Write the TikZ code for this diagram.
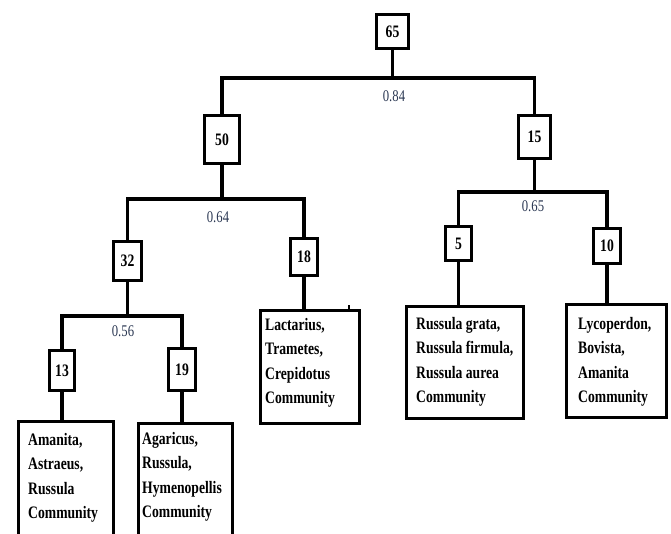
\documentclass[tikz,border=0pt]{standalone}
\usepackage{fontspec}
\setmainfont{Liberation Serif}[FakeStretch=0.78]
\usetikzlibrary{positioning}
\usetikzlibrary{calc}
\definecolor{simblue}{HTML}{2B3853}

\begin{document}
\begin{tikzpicture}[
x=1pt, y=-1pt,
lk/.style={line width=3.2pt}
]

\tikzstyle{nb} = [draw, line width=3.2pt, shape=rectangle, inner sep=0pt, font=\fontsize{17.5}{20}\selectfont\bfseries]
\tikzstyle{cb} = [draw, line width=3.2pt, shape=rectangle, anchor=north west, inner sep=0pt]
\tikzstyle{ct} = [anchor=north west, align=left, inner sep=0pt, font=\fontsize{17.5}{24.5}\selectfont\bfseries]
\tikzstyle{sv} = [inner sep=0pt, text=simblue, font=\fontsize{16.3}{18}\selectfont]

\useasboundingbox (0,0) rectangle (671,534);
\clip (0,0) rectangle (671,534);

\node[nb, minimum width=32, minimum height=34] (n65) at (392.5,31.5) {65};
\node[nb, minimum width=35, minimum height=48] (n50) at (222,139.5) {50};
\node[nb, minimum width=32, minimum height=43] (n15) at (534.5,137) {15};
\node[nb, minimum width=28, minimum height=39] (n32) at (127.5,261) {32};
\node[nb, minimum width=27, minimum height=37] (n18) at (304,257) {18};
\node[nb, minimum width=25, minimum height=40] (n13) at (62,370.5) {13};
\node[nb, minimum width=27, minimum height=42] (n19) at (182,369.5) {19};
\node[nb, minimum width=26, minimum height=34] (n5) at (458.5,243.5) {5};
\node[nb, minimum width=27, minimum height=35] (n10) at (607,246) {10};

\node[cb, minimum width=95, minimum height=140] (c13) at (16.5,419.5) {};
\node[cb, minimum width=94, minimum height=140] (c19) at (136.5,421.5) {};
\node[cb, minimum width=99, minimum height=113] (c18) at (258.5,308.5) {};
\node[cb, minimum width=117, minimum height=112] (c5) at (404.5,304.5) {};
\node[cb, minimum width=100, minimum height=113] (c10) at (564.5,302.5) {};

\node[ct] (t13) at (28,433) {Amanita,\\Astraeus,\\Russula\\Community};
\node[ct] (t19) at (142,432) {Agaricus,\\Russula,\\Hymenopellis\\Community};
\node[ct] (t18) at (265,318) {Lactarius,\\Trametes,\\Crepidotus\\Community};
\node[ct] (t5) at (416,317) {Russula grata,\\Russula firmula,\\Russula aurea\\Community};
\node[ct] (t10) at (578,317) {Lycoperdon,\\Bovista,\\Amanita\\Community};

\coordinate (j1) at (392.5,78);
\coordinate (j2) at (222,199);
\coordinate (j3) at (127.5,316);
\coordinate (j4) at (534.5,192);

\draw[lk] (n65.south) -- (j1);
\draw[lk] (n50.north) |- (j1) -| (n15.north);
\draw[lk] (n50.south) -- (j2);
\draw[lk] (n32.north) |- (j2) -| (n18.north);
\draw[lk] (n32.south) -- (j3);
\draw[lk] (n13.north) |- (j3) -| (n19.north);
\draw[lk] (n15.south) -- (j4);
\draw[lk] (n5.north) |- (j4) -| (n10.north);

\draw[lk] (n13.south) -- (n13.south |- c13.north);
\draw[lk] (n19.south) -- (n19.south |- c19.north);
\draw[lk] (n18.south) -- (n18.south |- c18.north);
\draw[lk] (n5.south) -- (n5.south |- c5.north);
\draw[lk] (n10.south) -- (n10.south |- c10.north);
\draw[line width=1.6pt] ([xshift=-12]c18.north east) -- ++(0,-4);

\node[sv] (s1) at (394,96) {0.84};
\node[sv] (s2) at (218,217) {0.64};
\node[sv] (s3) at (123,331) {0.56};
\node[sv] (s4) at (533,206) {0.65};
\end{tikzpicture}
\end{document}
